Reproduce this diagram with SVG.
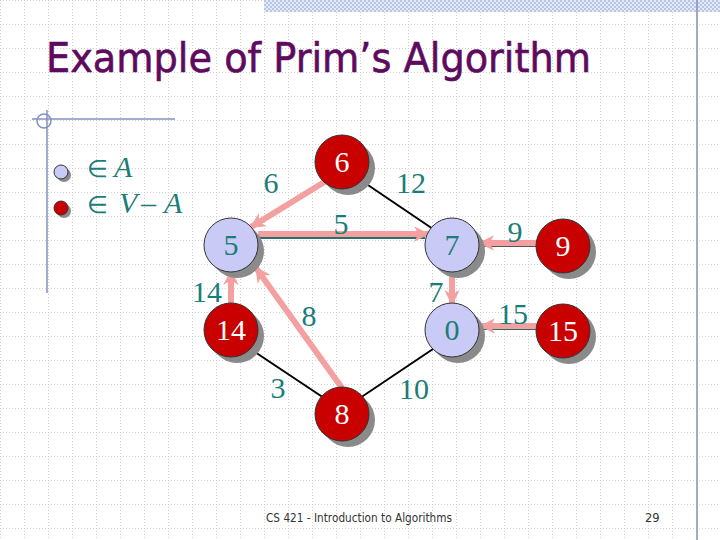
<svg xmlns="http://www.w3.org/2000/svg" width="720" height="540" viewBox="0 0 720 540">
<defs>
<pattern id="grid" width="24" height="24" patternUnits="userSpaceOnUse">
<path d="M0 0.5H24M0.5 0V24" stroke="#d2d2d2" stroke-width="1" stroke-dasharray="1 2" fill="none"/>
</pattern>
<pattern id="hatch" width="4" height="4" patternUnits="userSpaceOnUse">
<rect width="4" height="4" fill="#e4eaf6"/>
<rect width="2" height="2" fill="#b8c6e6"/>
<rect x="2" y="2" width="2" height="2" fill="#b8c6e6"/>
</pattern>
<marker id="ah" viewBox="0 0 10 10" refX="9" refY="5" markerWidth="2.6" markerHeight="2.6" orient="auto" markerUnits="strokeWidth">
<path d="M0 0L10 5L0 10L3 5Z" fill="#f4a0a0"/>
</marker>
<style>
.sh{fill:#8a8a8a}
.lt{fill:#c9caf6;stroke:#333;stroke-width:1}
.rd{fill:#c80000;stroke:#333;stroke-width:1}
.nt{font-family:"Liberation Serif",serif;font-size:30px;text-anchor:middle}
.tl{fill:#1b7d78}
.tw{fill:#ffffff}
.el{font-family:"Liberation Serif",serif;font-size:30px;fill:#1b7d78;text-anchor:middle}
.bl{stroke:#000;stroke-width:2;fill:none}
.tq{stroke:#2a6e6a;stroke-width:2;fill:none}
.pk{stroke:#f4a0a0;stroke-width:6;fill:none;marker-end:url(#ah)}
.deco{stroke:#8090c0;stroke-width:1.5;fill:none}
.el2{font-size:24px}
</style>
</defs>
<rect width="720" height="540" fill="#ffffff"/>
<rect width="720" height="540" fill="url(#grid)"/>
<rect x="264" y="0" width="456" height="12" fill="url(#hatch)"/>
<line x1="697" y1="0" x2="697" y2="540" stroke="#8890b0" stroke-width="1.5"/>
<g id="deco">
<line class="deco" x1="32" y1="119" x2="175" y2="119"/>
<line class="deco" x1="47" y1="110" x2="47" y2="293"/>
<circle class="deco" cx="44" cy="121" r="7"/>
</g>
<text x="46" y="72" font-family="DejaVu Sans, sans-serif" font-size="40" fill="#5e0a5e" stroke="#5e0a5e" stroke-width="0.6" textLength="545" lengthAdjust="spacingAndGlyphs">Example of Prim’s Algorithm</text>
<g id="legend">
<circle class="sh" cx="64" cy="175" r="7"/>
<circle class="lt" cx="61" cy="172" r="7"/>
<circle class="sh" cx="64" cy="211" r="7"/>
<circle class="rd" cx="61" cy="208" r="7"/>
<text font-family="Liberation Serif, serif" font-size="30" fill="#1b7d78" y="177"><tspan x="87" class="el2">∈</tspan><tspan x="114" font-style="italic">A</tspan></text>
<text font-family="Liberation Serif, serif" font-size="30" fill="#1b7d78" y="213"><tspan x="87" class="el2">∈</tspan><tspan x="119" font-style="italic">V</tspan><tspan x="141">–</tspan><tspan x="164" font-style="italic">A</tspan></text>
</g>
<g id="connectors">
<line class="bl" x1="362" y1="181" x2="433" y2="229"/>
<line class="bl" x1="252" y1="350" x2="324" y2="398"/>
<line class="bl" x1="360" y1="398" x2="433" y2="349"/>
<line class="tq" x1="258" y1="238" x2="425" y2="238"/>
<line x1="480" y1="246" x2="537" y2="246" stroke="#555" stroke-width="2"/>
<line class="tq" x1="480" y1="329" x2="537" y2="329"/>
<line class="pk" x1="326" y1="181" x2="251" y2="227"/>
<line class="pk" x1="258" y1="234" x2="428" y2="234"/>
<line class="pk" x1="231" y1="303" x2="231" y2="271"/>
<line class="pk" x1="342" y1="388" x2="256" y2="268"/>
<line class="pk" x1="452" y1="272" x2="452" y2="304"/>
<line class="pk" x1="537" y1="243" x2="480" y2="243"/>
<line class="pk" x1="537" y1="326" x2="481" y2="326"/>
</g>
<g id="edge-labels">
<text class="el" x="271" y="193">6</text>
<text class="el" x="411" y="193">12</text>
<text class="el" x="341" y="234">5</text>
<text class="el" x="207" y="302">14</text>
<text class="el" x="309" y="326">8</text>
<text class="el" x="436" y="302">7</text>
<text class="el" x="278" y="398">3</text>
<text class="el" x="414" y="399">10</text>
<text class="el" x="515" y="242">9</text>
<text class="el" x="513" y="324">15</text>
</g>
<g id="n6"><circle class="sh" cx="348" cy="168" r="27"/><circle class="rd" cx="342" cy="162" r="27"/><text class="nt tw" x="342" y="172">6</text></g>
<g id="n5"><circle class="sh" cx="237" cy="251" r="27"/><circle class="lt" cx="231" cy="245" r="27"/><text class="nt tl" x="231" y="255">5</text></g>
<g id="n7"><circle class="sh" cx="458" cy="251" r="27"/><circle class="lt" cx="452" cy="245" r="27"/><text class="nt tl" x="452" y="255">7</text></g>
<g id="n14"><circle class="sh" cx="237" cy="336" r="27"/><circle class="rd" cx="231" cy="330" r="27"/><text class="nt tw" x="231" y="340">14</text></g>
<g id="n0"><circle class="sh" cx="458" cy="336" r="27"/><circle class="lt" cx="452" cy="330" r="27"/><text class="nt tl" x="452" y="340">0</text></g>
<g id="n8"><circle class="sh" cx="348" cy="420" r="27"/><circle class="rd" cx="342" cy="414" r="27"/><text class="nt tw" x="342" y="424">8</text></g>
<g id="n9"><circle class="sh" cx="569" cy="252" r="27"/><circle class="rd" cx="563" cy="246" r="27"/><text class="nt tw" x="563" y="256">9</text></g>
<g id="n15"><circle class="sh" cx="569" cy="337" r="27"/><circle class="rd" cx="563" cy="331" r="27"/><text class="nt tw" x="563" y="341">15</text></g>
<text x="266" y="522" font-family="DejaVu Sans, sans-serif" font-size="11.5" fill="#333" textLength="186" lengthAdjust="spacingAndGlyphs">CS 421 - Introduction to Algorithms</text>
<text x="645" y="522" font-family="DejaVu Sans, sans-serif" font-size="11.5" fill="#333">29</text>
</svg>
